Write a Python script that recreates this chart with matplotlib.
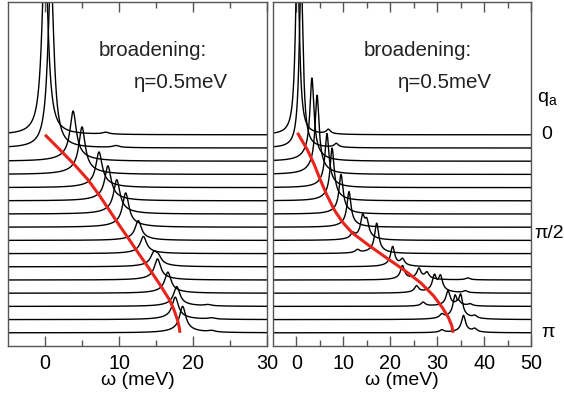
import numpy as np
import matplotlib.pyplot as plt

plt.rcParams['font.family'] = ['Liberation Sans', 'DejaVu Sans']
plt.rcParams['mathtext.default'] = 'regular'

eta = 0.5                      # broadening (meV), half width of each Lorentzian
nq = 16                        # number of q traces, from q=0 (top) to q=pi (bottom)

# left panel: peak positions (meV) and heights (in units of the trace spacing), one list per q
left_w0 = [[0.0, 8.2], [0.8, 9.6], [3.8], [5.0], [7.3], [8.5], [9.7], [10.9],
           [12.6], [13.3], [14.7, 15.3], [15.2], [16.6], [17.8, 22.0], [17.6, 22.5], [18.6, 22.5]]
left_h = [[14, 0.15], [13, 0.15], [3.8], [3.6], [2.7], [2.65], [2.6], [2.6],
          [1.5], [1.3], [0.9, 0.6], [1.6], [1.6], [1.5, 0.1], [1.7, 0.1], [2.0, 0.12]]

# right panel
right_w0 = [[0.2, 6.8], [1.0, 8.5], [3.3], [4.4], [6.5], [7.6], [9.5], [11.2],
            [12.0, 14.1, 15.0], [13.0, 17.1], [20.5, 22.6], [22.6, 26.1, 27.8, 36.5],
            [25.6, 29.4, 30.7, 36.0], [27.0, 32.3, 34.5, 37.0], [31.0, 33.8, 35.0, 38.0], [31.0, 35.6, 38.0]]
right_h = [[14, 0.35], [13, 0.3], [6.3], [6.0], [4.1], [4.0], [3.0], [2.7],
           [0.4, 1.6, 1.2], [0.25, 2.3], [1.5, 0.5], [1.05, 0.8, 0.5, 0.15],
           [0.5, 1.2, 1.15, 0.15], [0.3, 1.15, 0.4, 0.15], [0.3, 1.5, 1.6, 0.2], [0.2, 1.3, 0.25]]

# red dispersion curves: energy (meV) against trace index (0 = q=0, 15 = q=pi)
left_red_w = [0.0, 2.03, 3.99, 5.81, 7.30, 8.65, 10.0, 11.4, 12.77, 14.19, 15.54, 16.82, 17.43, 17.9, 18.13, 18.24]
left_red_k = [0.0, 1.14, 2.27, 3.41, 4.55, 5.68, 6.82, 7.95, 9.09, 10.23, 11.36, 12.5, 13.26, 14.02, 14.55, 15.0]
right_red_w = [0.21, 2.33, 3.81, 5.08, 6.46, 8.05, 9.75, 11.86, 15.25, 18.86, 22.88, 26.48, 29.24, 31.14, 32.42, 33.12, 33.41]
right_red_k = [-0.15, 1.14, 2.27, 3.41, 4.55, 5.68, 6.59, 7.42, 8.33, 9.24, 10.23, 11.21, 12.2, 13.11, 13.86, 14.47, 15.0]

tail = 0.12                    # weight of the broad skirt under each inelastic peak
gtail = 2.0                    # half width of that skirt (meV)

fig = plt.figure(figsize=(5.64, 3.97), dpi=100)
ax1 = fig.add_axes([8/564, 51/397, 259/564, 344/397])
ax2 = fig.add_axes([273/564, 51/397, 258/564, 344/397])

panels = [(ax1, left_w0, left_h, left_red_w, left_red_k, 30),
          (ax2, right_w0, right_h, right_red_w, right_red_k, 50)]

for ax, w0s, hs, rw, rk, wmax in panels:
    w = np.linspace(-5, wmax, 3000)
    for k in range(nq):
        base = nq - k                 # baseline of trace k
        y = np.full_like(w, base, dtype=float)
        for w0, h in zip(w0s[k], hs[k]):
            a = tail if h < 10 else 0.0
            y += h * (1 - a) * eta**2 / ((w - w0)**2 + eta**2)
            y += h * a * gtail**2 / ((w - w0)**2 + gtail**2)
        ax.plot(w, y, color='black', lw=1.0)
    # dispersion
    ax.plot(rw, nq - np.array(rk), color='#e8241c', lw=2.2, solid_capstyle='butt')
    ax.set_xlim(-5, wmax)
    ax.set_ylim(0, 26.06)
    ax.set_xticks(np.arange(0, wmax + 1, 10))
    ax.set_xticks(np.arange(5, wmax, 10), minor=True)
    ax.set_yticks([])
    ax.tick_params(axis='x', which='both', direction='in', top=True, colors='#555555',
                   labelcolor='black', labelsize=14.2, pad=6)
    ax.tick_params(axis='x', which='major', length=7, width=1)
    ax.tick_params(axis='x', which='minor', length=4, width=1)
    for s in ax.spines.values():
        s.set_color('#555555')
        s.set_linewidth(1.0)
    ax.set_xlabel('ω (meV)', fontsize=14, labelpad=-1)
    ax.text(0.35, 0.858, 'broadening:', transform=ax.transAxes, fontsize=14.8,
            ha='left', va='center', color='#222222')
    ax.text(0.485, 0.767, 'η=0.5meV', transform=ax.transAxes, fontsize=14.8,
            ha='left', va='center', color='#222222')

# q labels on the right side
tr = ax2.get_yaxis_transform()
ax2.text(1.062, 18.7, 'q$_{a}$', transform=tr, fontsize=14, ha='center', va='center')
ax2.text(1.062, 16.0, '0', transform=tr, fontsize=14, ha='center', va='center')
ax2.text(1.07, 8.56, 'π/2', transform=tr, fontsize=14, ha='center', va='center')
ax2.text(1.066, 1.0, 'π', transform=tr, fontsize=14, ha='center', va='center')

fig.savefig('out.png', dpi=100)
